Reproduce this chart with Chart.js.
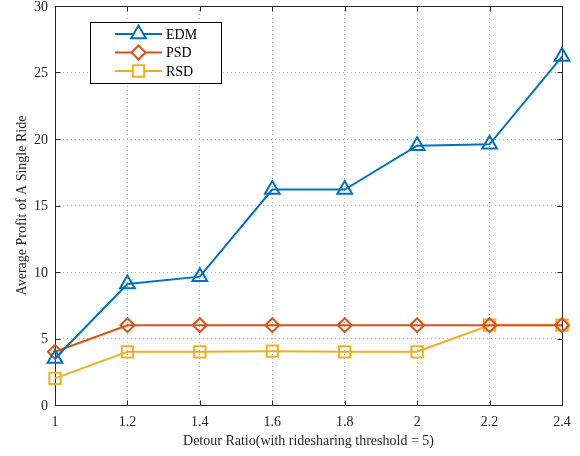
<!DOCTYPE html>
<html>
<head>
<meta charset="utf-8">
<script src="https://cdn.jsdelivr.net/npm/chart.js@4.4.0/dist/chart.umd.min.js"></script>
<style>
  html, body { margin: 0; padding: 0; background: #ffffff; }
  #wrap { width: 580px; height: 456px; }
</style>
</head>
<body>
<div id="wrap"><canvas id="c" width="580" height="456"></canvas></div>
<script>
// Detour ratio on the x axis, average profit per ride for each scheme
const detourRatios = [1, 1.2, 1.4, 1.6, 1.8, 2, 2.2, 2.4];
const edmProfit = [3.5, 9.1, 9.65, 16.2, 16.2, 19.5, 19.6, 26.2];
const psdProfit = [4, 6, 6, 6, 6, 6, 6, 6];
const rsdProfit = [2, 4, 4, 4.05, 4, 4, 6, 6];
const seriesNames = ['EDM', 'PSD', 'RSD'];
const xTickValues = [1, 1.2, 1.4, 1.6, 1.8, 2, 2.2, 2.4];
const yTickValues = [0, 5, 10, 15, 20, 25, 30];
const xTitle = 'Detour Ratio(with ridesharing threshold = 5)';
const yTitle = 'Average Profit of A Single Ride';

const FONT = '"Liberation Serif", "Times New Roman", serif';
const AXIS_COLOR = '#262626';

function toPoints(values) {
  return detourRatios.map((x, i) => ({ x: x, y: values[i] }));
}

const seriesStyles = [
  { color: '#0072BD', pointStyle: 'triangle', radius: 8.5 },
  { color: '#D95319', pointStyle: 'rectRot', radius: 7 },
  { color: '#EDB120', pointStyle: 'rect', radius: 8 }
];
const seriesValues = [edmProfit, psdProfit, rsdProfit];

const datasets = seriesNames.map((name, i) => ({
  label: name,
  data: toPoints(seriesValues[i]),
  borderColor: seriesStyles[i].color,
  backgroundColor: 'rgba(0,0,0,0)',
  borderWidth: 2,
  pointStyle: seriesStyles[i].pointStyle,
  pointRadius: seriesStyles[i].radius,
  pointHoverRadius: seriesStyles[i].radius,
  pointBorderWidth: 2,
  pointBorderColor: seriesStyles[i].color,
  pointBackgroundColor: 'rgba(0,0,0,0)',
  tension: 0,
  clip: false
}));

// Axes box with inward tick marks on all four sides, plus the y tick labels
const boxPlugin = {
  id: 'axesBox',
  beforeDatasetsDraw(chart) {
    const { ctx, chartArea: a, scales } = chart;
    const L = Math.round(a.left) + 0.5, R = Math.round(a.right) + 0.5;
    const T = Math.round(a.top) + 0.5, B = Math.round(a.bottom) + 0.5;
    const tl = 5;
    ctx.save();
    ctx.strokeStyle = AXIS_COLOR;
    ctx.lineWidth = 1;
    ctx.strokeRect(L, T, R - L, B - T);
    ctx.beginPath();
    xTickValues.forEach(v => {
      const x = Math.round(scales.x.getPixelForValue(v)) + 0.5;
      ctx.moveTo(x, B); ctx.lineTo(x, B - tl);
      ctx.moveTo(x, T); ctx.lineTo(x, T + tl);
    });
    yTickValues.forEach(v => {
      const y = Math.round(scales.y.getPixelForValue(v)) + 0.5;
      ctx.moveTo(L, y); ctx.lineTo(L + tl, y);
      ctx.moveTo(R, y); ctx.lineTo(R - tl, y);
    });
    ctx.stroke();
    ctx.fillStyle = AXIS_COLOR;
    ctx.font = '14px ' + FONT;
    ctx.textAlign = 'right';
    ctx.textBaseline = 'middle';
    yTickValues.forEach(v => {
      ctx.fillText(String(v), a.left - 7, scales.y.getPixelForValue(v) + 1);
    });
    ctx.restore();
  }
};

// Boxed legend in the upper-left of the plot
const LEGEND_ROWS = [34, 52.5, 71];
const legendPlugin = {
  id: 'boxLegend',
  afterDatasetsDraw(chart) {
    const { ctx } = chart;
    const bx = 90.5, by = 22.5, bw = 131, bh = 61;
    ctx.save();
    ctx.fillStyle = '#ffffff';
    ctx.fillRect(bx, by, bw, bh);
    ctx.strokeStyle = '#000000';
    ctx.lineWidth = 1;
    ctx.strokeRect(bx, by, bw, bh);
    chart.data.datasets.forEach((ds, i) => {
      const y = LEGEND_ROWS[i];
      ctx.strokeStyle = ds.borderColor;
      ctx.lineWidth = 2;
      ctx.beginPath();
      ctx.moveTo(115, y); ctx.lineTo(162, y);
      ctx.stroke();
      ctx.fillStyle = '#ffffff';
      Chart.helpers.drawPoint(ctx, {
        pointStyle: ds.pointStyle,
        radius: ds.pointRadius,
        rotation: 0,
        borderWidth: 2
      }, 138.5, y);
      ctx.fillStyle = '#000000';
      ctx.font = '14px ' + FONT;
      ctx.textAlign = 'left';
      ctx.textBaseline = 'middle';
      ctx.fillText(ds.label, 166, y + 1);
    });
    ctx.restore();
  }
};

new Chart(document.getElementById('c'), {
  type: 'line',
  data: { datasets: datasets },
  plugins: [boxPlugin, legendPlugin],
  options: {
    responsive: false,
    devicePixelRatio: 1,
    animation: false,
    layout: { autoPadding: false, padding: { top: 6, right: 18, left: 0, bottom: 0 } },
    plugins: { legend: { display: false }, tooltip: { enabled: false } },
    scales: {
      x: {
        type: 'linear',
        min: 1,
        max: 2.4,
        afterBuildTicks(scale) { scale.ticks = xTickValues.map(v => ({ value: v })); },
        afterFit(scale) {
          scale.height = 51;
          scale.paddingLeft = 0;
          scale.paddingRight = 0;
        },
        grid: { color: '#b0b0b0', lineWidth: 1, drawTicks: false },
        border: { display: false, dash: [1, 3] },
        ticks: {
          padding: 9,
          color: '#262626',
          font: { family: FONT, size: 14 },
          maxRotation: 0,
          callback: v => String(+Number(v).toFixed(1))
        },
        title: {
          display: true,
          text: xTitle,
          color: '#262626',
          font: { family: FONT, size: 14 },
          padding: { top: 0, bottom: 6 }
        }
      },
      y: {
        type: 'linear',
        min: 0,
        max: 30,
        afterBuildTicks(scale) { scale.ticks = yTickValues.map(v => ({ value: v })); },
        afterFit(scale) {
          scale.width = 55;
          scale.paddingTop = 0;
          scale.paddingBottom = 0;
        },
        grid: { color: '#b0b0b0', lineWidth: 1, drawTicks: false },
        border: { display: false, dash: [1, 3] },
        ticks: { display: false, padding: 0 },
        title: {
          display: true,
          text: yTitle,
          color: '#262626',
          font: { family: FONT, size: 14 },
          padding: { top: 14, bottom: 0 }
        }
      }
    }
  }
});
</script>
</body>
</html>
